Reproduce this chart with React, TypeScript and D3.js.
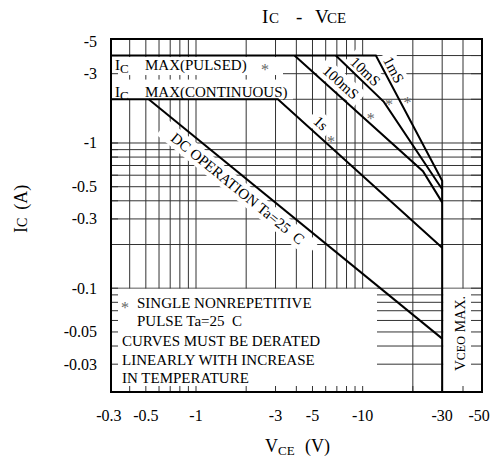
import React from "react";
import * as d3 from "d3";

// ---- data ----
const xTickValues = [0.3, 0.5, 1, 3, 5, 10, 30, 50];
const xTickLabels = ["-0.3", "-0.5", "-1", "-3", "-5", "-10", "-30", "-50"];
const yTickValues = [5, 3, 1, 0.5, 0.3, 0.1, 0.05, 0.03];
const yTickLabels = ["-5", "-3", "-1", "-0.5", "-0.3", "-0.1", "-0.05", "-0.03"];
const xGridValues = [0.4, 0.5, 0.6, 0.7, 0.8, 0.9, 1, 2, 3, 4, 5, 6, 7, 8, 9, 10, 20, 30, 40];
const yGridValues = [0.03, 0.04, 0.05, 0.06, 0.07, 0.08, 0.09, 0.1, 0.2, 0.3, 0.4, 0.5, 0.6, 0.7, 0.8, 0.9, 1, 2, 3, 4];

const icPulsedMax = 4;
const icContinuousMax = 2;
const vceoMax = 30;
const dcV = [0.52, 30];
const dcI = [2, 0.045];
const s1V = [3.1, 30];
const s1I = [2, 0.19];
const ms100V = [3.9, 23, 30];
const ms100I = [4, 0.64, 0.39];
const ms10V = [6.9, 13.4, 30];
const ms10I = [4, 1.92, 0.48];
const ms1V = [12, 30];
const ms1I = [4, 0.55];

const FONT = '"Liberation Serif", "Times New Roman", "DejaVu Serif", serif';

type P = [number, number];

function place(pts: P[], seg: number, t: number, off: number) {
  const [ax, ay] = pts[seg];
  const [bx, by] = pts[seg + 1];
  const dx = bx - ax, dy = by - ay;
  const len = Math.hypot(dx, dy);
  const nx = dy / len, ny = -dx / len;
  return {
    x: ax + dx * t + nx * off,
    y: ay + dy * t + ny * off,
    angle: (Math.atan2(dy, dx) * 180) / Math.PI,
  };
}

export default function App() {
  const x = d3.scaleLog().domain([0.309, 52]).range([111, 482]);
  const y = d3.scaleLog().domain([5.2, 0.0193]).range([39, 392]);
  const [x0, x1] = x.range();
  const [y0, y1] = y.range();
  const vMin = x.domain()[0];
  const iMin = y.domain()[1];

  const zip = (vs: number[], is: number[]): P[] => vs.map((v, i) => [v, is[i]] as P);
  const line = d3.line<P>().x((d) => x(d[0])).y((d) => y(d[1]));
  const px = (pts: P[]): P[] => pts.map((d) => [x(d[0]), y(d[1])] as P);

  const envelope: P[] = [[vMin, icPulsedMax], ...zip(ms1V, ms1I), [vceoMax, iMin]];
  const oneSec: P[] = [[vMin, icContinuousMax], ...zip(s1V, s1I)];
  const dc = zip(dcV, dcI);
  const m100 = zip(ms100V, ms100I);
  const m10 = zip(ms10V, ms10I);
  const m1 = zip(ms1V, ms1I);

  const rotLabels = [
    { text: "100mS", pos: place(px(m100), 0, 0.303, 11), size: 15, w: 44 },
    { text: "10mS", pos: place(px(m10), 0, 0.484, 9), size: 15, w: 36 },
    { text: "1mS", pos: place(px(m1), 0, 0.148, 9), size: 15, w: 28 },
    { text: "1s", pos: place(px(oneSec), 1, 0.216, 11), size: 15, w: 16 },
    { text: "DC OPERATION Ta=25  C", pos: place(px(dc), 0, 0.331, -13), size: 15, w: 186 },
  ];
  const stars = [
    place(px(m100), 0, 0.563, 6),
    place(px(m10), 1, 0.03, 4),
    place(px(m1), 0, 0.383, 7),
    place(px(oneSec), 1, 0.298, 6),
  ];

  const noteTop = y(0.1);
  const noteRight = 377;
  const starColor = "#666";

  return (
    <svg
      width={497}
      height={457}
      style={{ display: "block", position: "absolute", left: 0, top: 0, fontFamily: FONT }}
    >
      <rect x={0} y={0} width={497} height={457} fill="#fff" />
      {/* grid */}
      <g stroke="#333" strokeWidth={1}>
        {xGridValues.map((v) => (
          <line key={"gx" + v} x1={x(v)} x2={x(v)} y1={y0} y2={y1} />
        ))}
        {yGridValues.map((v) => (
          <line key={"gy" + v} x1={x0} x2={x1} y1={y(v)} y2={y(v)} />
        ))}
      </g>
      {/* white label areas */}
      <g fill="#fff">
        <rect x={x0} y={y(icPulsedMax) + 1.5} width={283 - x0} height={18} />
        <rect x={x0} y={y(icPulsedMax) + 24} width={293 - x0} height={y(icContinuousMax) - y(icPulsedMax) - 24} />
        <rect x={x0} y={noteTop + 0.5} width={noteRight - x0} height={y1 - noteTop} />
        <rect x={x(vceoMax) + 1} y={noteTop + 0.5} width={x1 - x(vceoMax) - 1} height={y1 - noteTop} />
        {rotLabels.map((l, i) => (
          <rect
            key={"lb" + i}
            x={-l.w / 2 - 4}
            y={-l.size / 2 - 2}
            width={l.w + 8}
            height={l.size + 4}
            transform={`translate(${l.pos.x},${l.pos.y}) rotate(${l.pos.angle})`}
          />
        ))}
      </g>
      {/* inner stubs */}
      <g stroke="#333" strokeWidth={1}>
        {xGridValues.map((v) => (
          <line key={"sx" + v} x1={x(v)} x2={x(v)} y1={y1} y2={y1 - 6} />
        ))}
        {yGridValues.map((v) => (
          <line key={"sl" + v} x1={x0} x2={x0 + 7} y1={y(v)} y2={y(v)} />
        ))}
        {yGridValues.map((v) => (
          <line key={"sr" + v} x1={x1 - 11} x2={x1} y1={y(v)} y2={y(v)} />
        ))}
      </g>
      {/* curves */}
      <g fill="none" stroke="#000" strokeWidth={2}>
        <path d={line(envelope) || ""} />
        <path d={line(oneSec) || ""} />
        <path d={line(dc) || ""} />
        <path d={line(m100) || ""} />
        <path d={line(m10) || ""} />
      </g>
      {/* frame */}
      <rect x={x0} y={y0} width={x1 - x0} height={y1 - y0} fill="none" stroke="#000" strokeWidth={2} />

      {/* rotated labels */}
      {rotLabels.map((l, i) => (
        <text
          key={"lt" + i}
          transform={`translate(${l.pos.x},${l.pos.y}) rotate(${l.pos.angle})`}
          textAnchor="middle"
          dominantBaseline="central"
          fontSize={l.size}
          fontFamily={FONT}
          fill="#000"
          style={{ whiteSpace: "pre" }}
        >
          {l.text}
        </text>
      ))}
      {stars.map((s, i) => (
        <text key={"st" + i} x={s.x} y={s.y + 8} textAnchor="middle" fontSize={16} fontFamily={FONT} fill={starColor}>
          *
        </text>
      ))}

      {/* IC max labels */}
      <text x={115} y={69.5} fontSize={15} fontFamily={FONT}>
        I<tspan fontSize={13} dy={3}>C</tspan>
        <tspan x={145} dy={-3}>MAX(PULSED)</tspan>
      </text>
      <text x={265} y={75} textAnchor="middle" fontSize={16} fontFamily={FONT} fill={starColor}>*</text>
      <text x={115} y={96.5} fontSize={15} fontFamily={FONT}>
        I<tspan fontSize={13} dy={3}>C</tspan>
        <tspan x={145} dy={-3}>MAX(CONTINUOUS)</tspan>
      </text>

      {/* note */}
      <text x={125} y={313} textAnchor="middle" fontSize={16} fontFamily={FONT} fill={starColor}>*</text>
      <g fontSize={15} fontFamily={FONT}>
        <text x={137} y={308}>SINGLE NONREPETITIVE</text>
        <text x={137} y={326} style={{ whiteSpace: "pre" }}>PULSE Ta=25  C</text>
        <text x={122} y={346}>CURVES MUST BE DERATED</text>
        <text x={122} y={365}>LINEARLY WITH INCREASE</text>
        <text x={122} y={383}>IN TEMPERATURE</text>
      </g>

      {/* VCEO */}
      <text transform={`translate(465,371) rotate(-90)`} fontSize={15} fontFamily={FONT}>
        V<tspan fontSize={12}>CEO</tspan>
        <tspan dx={4} fontSize={14}>MAX.</tspan>
      </text>

      {/* ticks */}
      {yTickValues.map((v, i) => (
        <text key={"yt" + v} x={97} y={y(v)} textAnchor="end" dominantBaseline="central" fontSize={16} fontFamily={FONT}>
          {yTickLabels[i]}
        </text>
      ))}
      {xTickValues.map((v, i) => (
        <text key={"xt" + v} x={x(v)} y={421} textAnchor="middle" fontSize={16} fontFamily={FONT}>
          {xTickLabels[i]}
        </text>
      ))}

      {/* axis titles */}
      <text x={265} y={452} fontSize={18} fontFamily={FONT}>
        V<tspan fontSize={13} dy={3}>CE</tspan>
        <tspan x={305} dy={-3}>(V)</tspan>
      </text>
      <text transform="translate(27,233) rotate(-90)" fontSize={18} fontFamily={FONT}>
        I<tspan fontSize={14}>C</tspan>
        <tspan dx={8}>(A)</tspan>
      </text>
      <text y={23} fontSize={19} fontFamily={FONT}>
        <tspan x={262}>I</tspan>
        <tspan x={269} fontSize={15}>C</tspan>
        <tspan x={296}>-</tspan>
        <tspan x={315}>V</tspan>
        <tspan x={327} fontSize={15}>CE</tspan>
      </text>
    </svg>
  );
}
